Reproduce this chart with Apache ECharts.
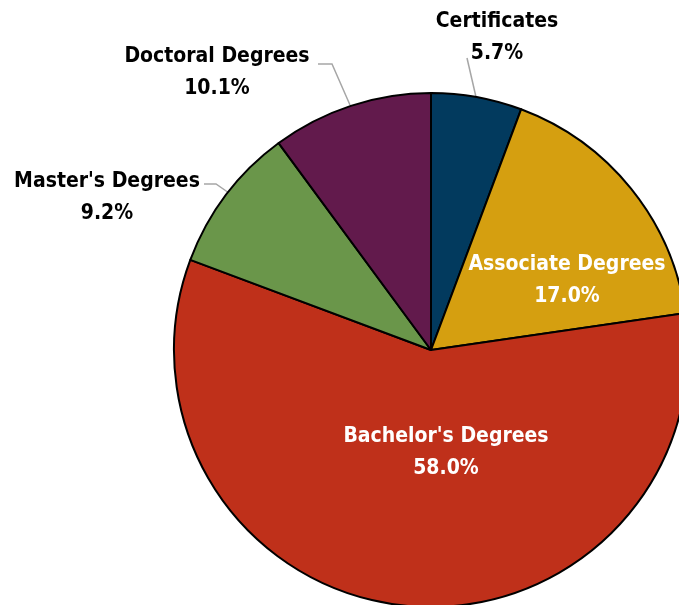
<!DOCTYPE html>
<html>
<head>
<meta charset="utf-8">
<script src="https://cdn.jsdelivr.net/npm/echarts@6/dist/echarts.min.js"></script>
<style>
    html, body { margin: 0; padding: 0; background: #fff; }
    #chart { width: 679px; height: 605px; }
</style>
</head>
<body>
<div id="chart"></div>
<script>
    // degree shares, clockwise from 12 o'clock
    var categories = ['Certificates', 'Associate Degrees', "Bachelor's Degrees", "Master's Degrees", 'Doctoral Degrees']
    var shares = [5.7, 17.0, 58.0, 9.2, 10.1]
    var colors = ['#023a5e', '#d59f10', '#bf301a', '#6a964a', '#621a4c']
    var insideLabel = [false, true, true, false, false]

    // where each label sits (centre of text block) and its leader line
    var labelPos = [
        { x: 497, y: 38, line: [[476, 97], [467, 58]] },
        { x: 567, y: 281 },
        { x: 446, y: 453 },
        { x: 107, y: 198, line: [[229, 193], [216, 184], [204, 184]] },
        { x: 217, y: 73, line: [[350, 105], [332, 64], [318, 64]] }
    ]

    var seriesData = []
    categories.forEach(function (name, i) {
        seriesData.push({
            name: name,
            value: shares[i],
            itemStyle: { color: colors[i] },
            label: {
                position: insideLabel[i] ? 'inside' : 'outside',
                color: insideLabel[i] ? '#ffffff' : '#000000'
            },
            labelLine: { show: !insideLabel[i] }
        })
    })

    var chart = echarts.init(document.getElementById('chart'))
    var option = {
        animation: false,
        series: [{
            type: 'pie',
            center: [431, 350],
            radius: 257,
            startAngle: 90,
            clockwise: true,
            itemStyle: {
                borderColor: '#000000',
                borderWidth: 2
            },
            label: {
                show: true,
                formatter: function (p) {
                    return p.name + '\n' + p.value.toFixed(1) + '%'
                },
                fontFamily: 'Liberation Sans Narrow, DejaVu Sans Condensed, sans-serif',
                fontWeight: 'bold',
                fontSize: 21,
                lineHeight: 32,
                align: 'center',
                overflow: 'none',
                width: 260
            },
            labelLine: {
                show: true,
                lineStyle: { color: '#a6a6a6', width: 1.5 }
            },
            labelLayout: function (params) {
                var pos = labelPos[params.dataIndex]
                var out = {
                    x: pos.x,
                    y: pos.y,
                    align: 'center',
                    verticalAlign: 'middle'
                }
                if (pos.line) {
                    out.labelLinePoints = pos.line
                }
                return out
            },
            data: seriesData
        }]
    }
    chart.setOption(option)
</script>
</body>
</html>
